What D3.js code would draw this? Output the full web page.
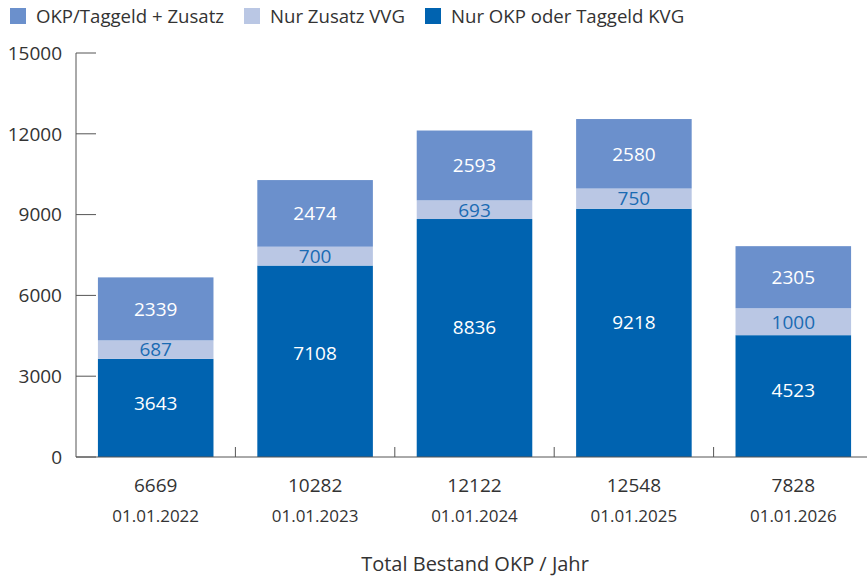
<!DOCTYPE html>
<html>
<head>
<meta charset="utf-8">
<script src="https://cdn.jsdelivr.net/npm/d3@7"></script>
<style>
  body { margin: 0; background: #fff; }
  text { font-family: "Open Sans", "Noto Sans", sans-serif; fill: #333; }
</style>
</head>
<body>
<script>
var width = 867;
var height = 577;

// data
var dates = ["01.01.2022", "01.01.2023", "01.01.2024", "01.01.2025", "01.01.2026"];
var totals = [6669, 10282, 12122, 12548, 7828];
var nurOkp = [3643, 7108, 8836, 9218, 4523];
var nurZusatz = [687, 700, 693, 750, 1000];
var okpZusatz = [2339, 2474, 2593, 2580, 2305];
var yTicks = [0, 3000, 6000, 9000, 12000, 15000];

// stacked bottom -> top; pos = where the label sits inside the segment (from bottom)
var series = [
  { key: "Nur OKP oder Taggeld KVG", values: nurOkp, color: "#0063b0", label: "#fff", pos: 0.545 },
  { key: "Nur Zusatz VVG", values: nurZusatz, color: "#bac7e4", label: "#1a6bb3", pos: 0.5 },
  { key: "OKP/Taggeld + Zusatz", values: okpZusatz, color: "#6b90cc", label: "#fff", pos: 0.5 }
];
var legendOrder = [series[2], series[1], series[0]];

var rows = dates.map(function(d, i) {
  var r = { date: d, total: totals[i] };
  series.forEach(function(s) { r[s.key] = s.values[i]; });
  return r;
});

var stack = d3.stack().keys(series.map(function(s) { return s.key; }));
var stacked = stack(rows);

var x = d3.scaleBand()
  .domain(dates)
  .range([76, 873])
  .paddingInner(0.275)
  .paddingOuter(0.1375);

var y = d3.scaleLinear()
  .domain([0, 15000])
  .range([457, 53]);

var svg = d3.select("body").append("svg")
  .attr("width", width)
  .attr("height", height);

// legend
var lx = [10, 244, 425];
var legend = svg.selectAll(".legend")
  .data(legendOrder)
  .enter().append("g")
  .attr("transform", function(d, i) { return "translate(" + lx[i] + ",8)"; });

legend.append("rect")
  .attr("width", 16)
  .attr("height", 16)
  .attr("fill", function(d) { return d.color; });

legend.append("text")
  .attr("x", 26)
  .attr("y", 15)
  .style("font-size", "18.6px")
  .text(function(d) { return d.key; });

// bars
var layers = svg.selectAll(".layer")
  .data(stacked)
  .enter().append("g")
  .attr("fill", function(d, i) { return series[i].color; });

layers.selectAll("rect")
  .data(function(d) { return d; })
  .enter().append("rect")
  .attr("x", function(d) { return x(d.data.date); })
  .attr("width", x.bandwidth())
  .attr("y", function(d) { return y(d[1]); })
  .attr("height", function(d) { return y(d[0]) - y(d[1]); });

layers.each(function(layer, li) {
  var s = series[li];
  d3.select(this).selectAll("text")
    .data(layer)
    .enter().append("text")
    .attr("x", function(d) { return x(d.data.date) + x.bandwidth() / 2; })
    .attr("y", function(d) { return y(d[0] + (d[1] - d[0]) * s.pos); })
    .attr("dy", "0.36em")
    .attr("text-anchor", "middle")
    .style("font-size", "19px")
    .style("fill", s.label)
    .text(function(d) { return d[1] - d[0]; });
});

// y axis
var yAxis = svg.append("g");
yAxis.append("line")
  .attr("x1", 76).attr("x2", 76)
  .attr("y1", y(15000)).attr("y2", y(0))
  .attr("stroke", "#555");
yAxis.selectAll(".yt")
  .data(yTicks)
  .enter().append("line")
  .attr("x1", 76).attr("x2", 96)
  .attr("y1", function(d) { return y(d); })
  .attr("y2", function(d) { return y(d); })
  .attr("stroke", "#555");
yAxis.selectAll(".yl")
  .data(yTicks)
  .enter().append("text")
  .attr("x", 62)
  .attr("y", function(d) { return y(d); })
  .attr("dy", "0.36em")
  .attr("text-anchor", "end")
  .style("font-size", "19px")
  .text(function(d) { return d; });

// x axis
var xAxis = svg.append("g");
xAxis.append("line")
  .attr("x1", 76).attr("x2", width)
  .attr("y1", y(0)).attr("y2", y(0))
  .attr("stroke", "#555");
xAxis.selectAll(".xt")
  .data(dates.slice(1))
  .enter().append("line")
  .attr("x1", function(d) { return x(d) - x.step() * x.paddingInner() / 2; })
  .attr("x2", function(d) { return x(d) - x.step() * x.paddingInner() / 2; })
  .attr("y1", y(0) - 10).attr("y2", y(0))
  .attr("stroke", "#555");

xAxis.selectAll(".xtot")
  .data(rows)
  .enter().append("text")
  .attr("x", function(d) { return x(d.date) + x.bandwidth() / 2; })
  .attr("y", 492)
  .attr("text-anchor", "middle")
  .style("font-size", "19px")
  .text(function(d) { return d.total; });

xAxis.selectAll(".xdate")
  .data(rows)
  .enter().append("text")
  .attr("x", function(d) { return x(d.date) + x.bandwidth() / 2; })
  .attr("y", 522)
  .attr("text-anchor", "middle")
  .style("font-size", "17px")
  .text(function(d) { return d.date; });

svg.append("text")
  .attr("x", 475)
  .attr("y", 571)
  .attr("text-anchor", "middle")
  .style("font-size", "20px")
  .style("font-weight", "500")
  .text("Total Bestand OKP / Jahr");
</script>
</body>
</html>
